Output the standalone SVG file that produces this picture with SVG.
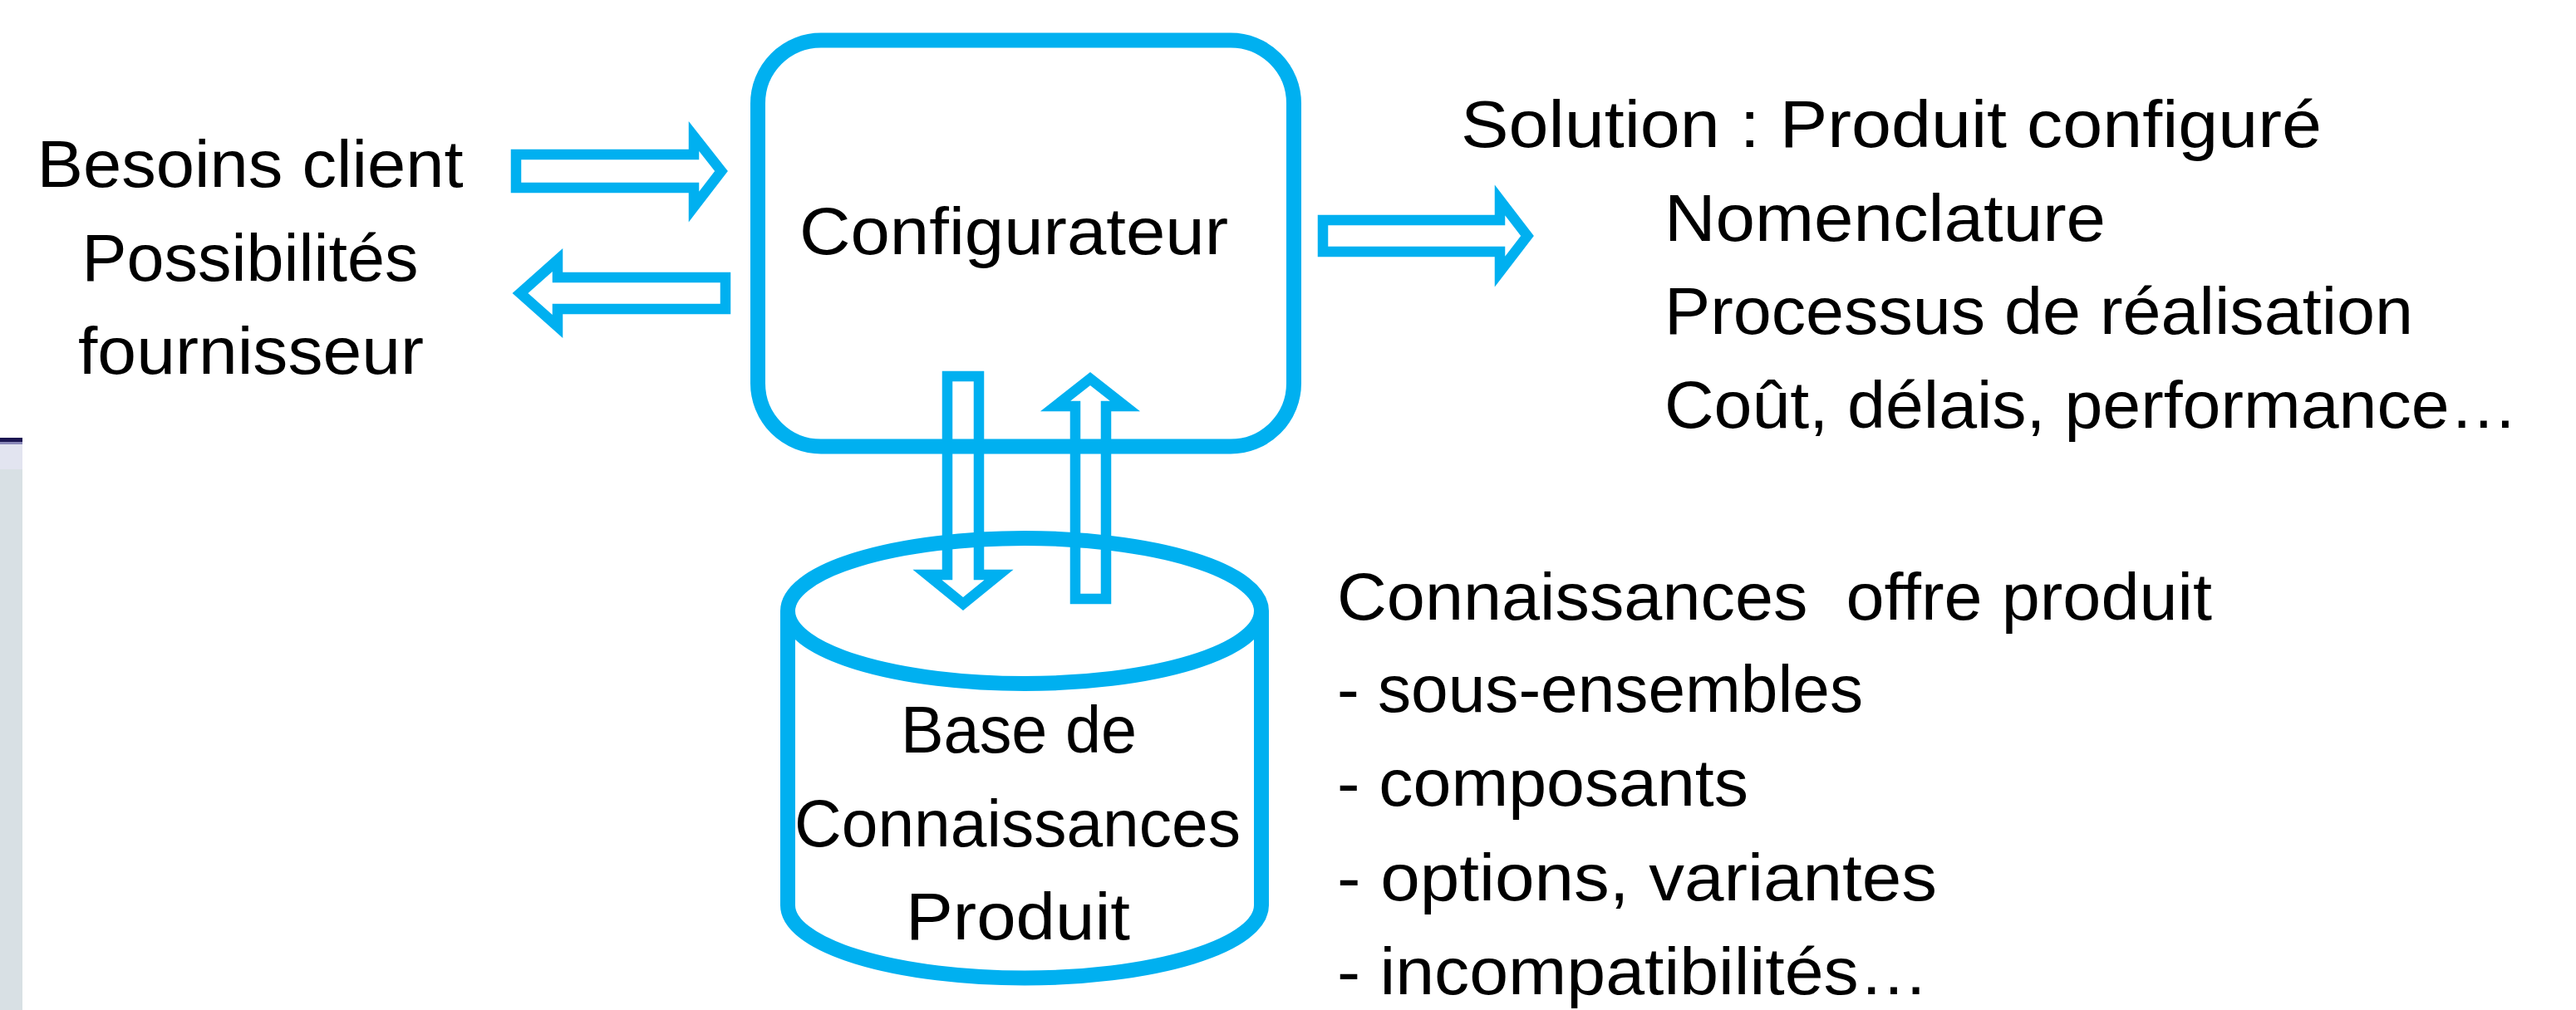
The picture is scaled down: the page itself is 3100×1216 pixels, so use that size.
<svg xmlns="http://www.w3.org/2000/svg" width="3100" height="1216" viewBox="0 0 3100 1216">
<style>
.t{font-family:"Liberation Sans",Arial,sans-serif;font-size:80px;fill:#000}
.m{text-anchor:middle}
.shape{fill:none;stroke:#00B0F0;stroke-width:18}
.arr{fill:none;stroke:#00B0F0;stroke-width:12.5;stroke-linejoin:miter;stroke-miterlimit:10}
</style>
<rect width="3100" height="1216" fill="#fff"/>
<g id="edge-artifact">
<rect x="0" y="527" width="27" height="689" fill="#d8e0e4"/>
<rect x="0" y="535" width="27" height="30" fill="#e2e4f0"/>
<rect x="0" y="531" width="27" height="4" fill="#8a88b8"/>
<rect x="0" y="527" width="27" height="5" fill="#1c1652"/>
</g>
<g id="connectors">
<path class="arr" d="M621,186 L835,186 L835,164 L868,206 L835,249 L835,226 L621,226 Z"/>
<path class="arr" d="M873,334 L671,334 L671,313 L626,353 L671,393 L671,372 L873,372 Z"/>
<path class="arr" d="M1592,265 L1805,265 L1805,241 L1838,284 L1805,327 L1805,303 L1592,303 Z"/>
<path class="arr" d="M1140,453 L1178,453 L1178,692 L1202,692 L1159,727 L1116,692 L1140,692 Z"/>
<path class="arr" d="M1294,721 L1294,489 L1270,489 L1312,456 L1354,489 L1331,489 L1331,721 Z"/>
</g>
<g id="inputs">
<text class="t m" x="301" y="225" textLength="513" lengthAdjust="spacingAndGlyphs">Besoins client</text>
<text class="t m" x="301" y="338" textLength="405" lengthAdjust="spacingAndGlyphs">Possibilités</text>
<text class="t m" x="302" y="450" textLength="416" lengthAdjust="spacingAndGlyphs">fournisseur</text>
</g>
<g id="configurateur">
<rect class="shape" x="912" y="48.5" width="645" height="489" rx="76" ry="76"/>
<text class="t" x="962" y="306" textLength="516" lengthAdjust="spacingAndGlyphs">Configurateur</text>
</g>
<g id="base-connaissances">
<ellipse class="shape" cx="1233" cy="735.5" rx="285" ry="87.5"/>
<path class="shape" d="M948,735.5 L948,1090 A285,87.5 0 0 0 1518,1090 L1518,735.5"/>
<text class="t m" x="1226" y="906" textLength="284" lengthAdjust="spacingAndGlyphs">Base de</text>
<text class="t m" x="1224.5" y="1019" textLength="537" lengthAdjust="spacingAndGlyphs">Connaissances</text>
<text class="t m" x="1225" y="1131" textLength="270" lengthAdjust="spacingAndGlyphs">Produit</text>
</g>
<g id="solution">
<text class="t" x="1758" y="177" textLength="1036" lengthAdjust="spacingAndGlyphs">Solution : Produit configuré</text>
<text class="t" x="2003" y="290" textLength="531" lengthAdjust="spacingAndGlyphs">Nomenclature</text>
<text class="t" x="2003" y="402" textLength="901" lengthAdjust="spacingAndGlyphs">Processus de réalisation</text>
<text class="t" x="2003" y="515" textLength="1027" lengthAdjust="spacingAndGlyphs">Coût, délais, performance…</text>
</g>
<g id="connaissances-offre">
<text class="t" x="1609" y="746" textLength="1053" lengthAdjust="spacingAndGlyphs" xml:space="preserve">Connaissances  offre produit</text>
<text class="t" x="1609" y="857" textLength="633" lengthAdjust="spacingAndGlyphs">- sous-ensembles</text>
<text class="t" x="1609" y="970" textLength="495" lengthAdjust="spacingAndGlyphs">- composants</text>
<text class="t" x="1609" y="1084" textLength="722" lengthAdjust="spacingAndGlyphs">- options, variantes</text>
<text class="t" x="1609" y="1197" textLength="712" lengthAdjust="spacingAndGlyphs">- incompatibilités…</text>
</g>
</svg>
